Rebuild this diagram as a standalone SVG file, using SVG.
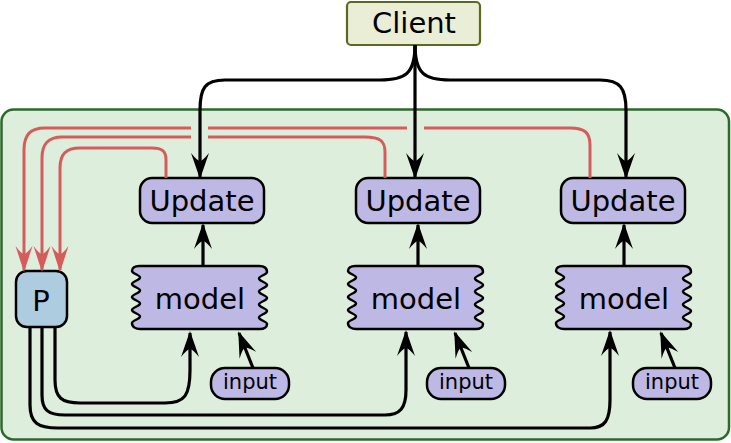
<svg xmlns="http://www.w3.org/2000/svg" xmlns:xlink="http://www.w3.org/1999/xlink" width="731" height="443" viewBox="0 0 731 443">
<style>
text{font-family:"DejaVu Sans","Liberation Sans",sans-serif;fill:#000;text-anchor:middle}
.big{font-size:29px}
.small{font-size:21px}
.box{fill:#bdb9e4;stroke:#000;stroke-width:2.5}
.blk{fill:none;stroke:#000;stroke-width:3.2;stroke-linecap:butt}
.red{fill:none;stroke:#d65c5c;stroke-width:3}
</style>
<defs>
<marker id="ab" markerUnits="userSpaceOnUse" markerWidth="28" markerHeight="22" viewBox="0 0 28 22" refX="25" refY="11" orient="auto">
<path d="M27,11 L1,2 Q9,8.5 9,11 Q9,13.5 1,20 Z" fill="#000"/>
</marker>
<marker id="ar" markerUnits="userSpaceOnUse" markerWidth="28" markerHeight="22" viewBox="0 0 28 22" refX="25" refY="11" orient="auto">
<path d="M27,11 L1,2.5 Q9,8.5 9,11 Q9,13.5 1,19.5 Z" fill="#d65c5c"/>
</marker>
<path id="modelShape" d="M6,0 L126,0 C131,0 134,2 134,6 C134,8.6 126,9.9 126,12.5 C126,15.1 134,16.4 134,19 C134,21.6 126,22.9 126,25.5 C126,28.1 134,29.4 134,32 C134,34.6 126,35.9 126,38.5 C126,41.1 134,42.4 134,45 C134,47.6 126,48.9 126,51.5 C126,54.1 134,55.4 134,58 C134,61 131,63 127,63 L7,63 C3,63 -1,61 -1,57 C-1,54.4 7,53.1 7,50.5 C7,47.9 -1,46.6 -1,44 C-1,41.4 7,40.1 7,37.5 C7,34.9 -1,33.6 -1,31 C-1,28.4 7,27.1 7,24.5 C7,21.9 -1,20.6 -1,18 C-1,15.4 7,14.1 7,11.5 C7,8.9 -1,7.6 -1,5 C-1,2 2,0 6,0 Z"/>
</defs>

<g id="container">
<rect x="1.5" y="109.5" width="727.5" height="330" rx="12" fill="#deeedc" stroke="#2c6a2c" stroke-width="2.5"/>
</g>

<g id="client">
<rect x="347" y="2" width="133" height="43" rx="4" fill="#eaeed6" stroke="#5a6a20" stroke-width="2.2"/>
<text class="big" x="414" y="33">Client</text>
</g>

<g id="update1"><rect class="box" x="140" y="178" width="124" height="45" rx="12"/><text class="big" x="202" y="211">Update</text></g>
<g id="update2"><rect class="box" x="356" y="178" width="124" height="45" rx="12"/><text class="big" x="418" y="211">Update</text></g>
<g id="update3"><rect class="box" x="561" y="178" width="124" height="45" rx="12"/><text class="big" x="623" y="211">Update</text></g>

<g id="model1"><use xlink:href="#modelShape" x="133" y="266" class="box"/><text class="big" x="200" y="309">model</text></g>
<g id="model2"><use xlink:href="#modelShape" x="349" y="266" class="box"/><text class="big" x="416" y="309">model</text></g>
<g id="model3"><use xlink:href="#modelShape" x="557" y="266" class="box"/><text class="big" x="624" y="309">model</text></g>

<g id="input1"><rect class="box" x="211" y="368" width="78" height="31" rx="14"/><text class="small" x="250" y="389">input</text></g>
<g id="input2"><rect class="box" x="427" y="368" width="78" height="31" rx="14"/><text class="small" x="466" y="389">input</text></g>
<g id="input3"><rect class="box" x="633" y="368" width="78" height="31" rx="14"/><text class="small" x="672" y="389">input</text></g>

<g id="P"><rect x="16" y="271" width="51" height="56" rx="11" fill="#adcce0" stroke="#000" stroke-width="2.5"/><text class="big" x="41" y="311">P</text></g>

<g id="connectors">
<path class="blk" marker-end="url(#ab)" d="M415,45 C415,74 405,80 380,80 L225,80 C205,80 200,88 200,110 L200,177"/>
<path class="blk" marker-end="url(#ab)" d="M415,45 L415,177"/>
<path class="blk" marker-end="url(#ab)" d="M415,45 C415,74 425,80 450,80 L600,80 C620,80 626,88 626,110 L626,177"/>

<path class="blk" marker-end="url(#ab)" d="M203,266 L203,225"/>
<path class="blk" marker-end="url(#ab)" d="M418,266 L418,225"/>
<path class="blk" marker-end="url(#ab)" d="M624,266 L624,225"/>

<path class="blk" marker-end="url(#ab)" d="M253,368 L239,333"/>
<path class="blk" marker-end="url(#ab)" d="M469,368 L455,333"/>
<path class="blk" marker-end="url(#ab)" d="M675,368 L661,333"/>

<path class="blk" marker-end="url(#ab)" d="M55,327 L55,380 C55,398 62,403 80,403 L165,403 C185,403 190,395 190,370 L190,333"/>
<path class="blk" marker-end="url(#ab)" d="M42,327 L42,395 C42,410 48,415 65,415 L385,415 C400,415 406,408 406,390 L406,332"/>
<path class="blk" marker-end="url(#ab)" d="M30,327 L30,405 C30,423 38,428 58,428 L590,428 C605,428 610,420 610,400 L610,332"/>

<path class="red" marker-end="url(#ar)" d="M590,178 L590,145 C590,133 585,128 570,128 L424,128 M407,128 L208,128 M191,128 L45,128 C30,128 24,135 24,150 L24,270"/>
<path class="red" marker-end="url(#ar)" d="M385,178 L385,152 C385,141 380,137 365,137 L208,137 M191,137 L62,137 C48,137 42,144 42,158 L42,270"/>
<path class="red" marker-end="url(#ar)" d="M166,178 L166,160 C166,151 162,148 152,148 L80,148 C66,148 60,154 60,168 L60,270"/>
</g>
</svg>
